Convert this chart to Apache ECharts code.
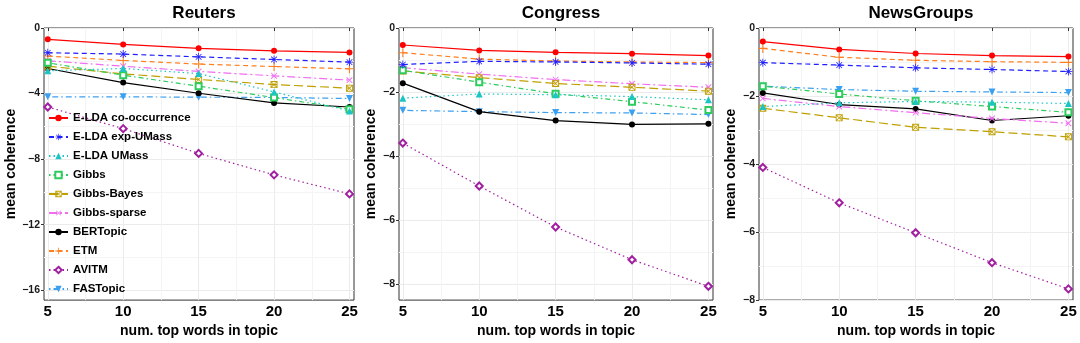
<!DOCTYPE html>
<html>
<head>
<meta charset="utf-8">
<script src="https://cdn.jsdelivr.net/npm/echarts@6/dist/echarts.min.js"></script>
<style>
  html, body { margin: 0; padding: 0; background: #fff; }
  #main { width: 1080px; height: 343px; }
</style>
</head>
<body>
<div id="main"></div>
<script>
// 横轴：主题的 top words 数量
const topWords = [5, 10, 15, 20, 25]
const methods = [
  'E-LDA co-occurrence', 'E-LDA exp-UMass', 'E-LDA UMass', 'Gibbs', 'Gibbs-Bayes',
  'Gibbs-sparse', 'BERTopic', 'ETM', 'AVITM', 'FASTopic',
]
const panelTitles = ['Reuters', 'Congress', 'NewsGroups']

// 每个数据集一组，行的顺序和 methods 一致
const reuters = [
  [-0.69, -1.0, -1.24, -1.39, -1.49],
  [-1.51, -1.59, -1.76, -1.92, -2.08],
  [-2.61, -2.47, -2.78, -3.9, -5.06],
  [-2.12, -2.88, -3.55, -4.24, -4.96],
  [-2.33, -2.8, -3.14, -3.45, -3.67],
  [-2.0, -2.33, -2.65, -2.92, -3.18],
  [-2.47, -3.33, -3.98, -4.57, -4.82],
  [-1.71, -1.98, -2.2, -2.35, -2.49],
  [-4.82, -6.14, -7.65, -8.96, -10.12],
  [-4.2, -4.2, -4.22, -4.24, -4.3],
]
const congress = [
  [-0.53, -0.7, -0.76, -0.8, -0.86],
  [-1.14, -1.04, -1.06, -1.09, -1.13],
  [-2.19, -2.06, -2.08, -2.14, -2.24],
  [-1.32, -1.69, -2.05, -2.3, -2.56],
  [-1.34, -1.55, -1.73, -1.85, -1.97],
  [-1.24, -1.44, -1.61, -1.74, -1.85],
  [-1.72, -2.61, -2.89, -3.01, -2.99],
  [-0.77, -0.97, -1.03, -1.06, -1.08],
  [-3.59, -4.93, -6.21, -7.23, -8.06],
  [-2.57, -2.61, -2.64, -2.65, -2.7],
]
const newsgroups = [
  [-0.4, -0.63, -0.75, -0.81, -0.84],
  [-1.02, -1.09, -1.17, -1.22, -1.28],
  [-2.31, -2.2, -2.16, -2.18, -2.22],
  [-1.71, -1.94, -2.14, -2.31, -2.48],
  [-2.36, -2.64, -2.92, -3.05, -3.2],
  [-2.07, -2.31, -2.49, -2.66, -2.8],
  [-1.91, -2.25, -2.38, -2.72, -2.58],
  [-0.6, -0.86, -0.95, -0.99, -1.01],
  [-4.1, -5.14, -6.02, -6.9, -7.67],
  [-1.71, -1.81, -1.86, -1.88, -1.9],
]
const panelData = [reuters, congress, newsgroups]

// 刻度
const xTicks = [5, 10, 15, 20, 25]
const xMinorTicks = [7.5, 12.5, 17.5, 22.5]
const yTicks = [[0, -4, -8, -12, -16], [0, -2, -4, -6, -8], [0, -2, -4, -6, -8]]
const yMinorTicks = [[-2, -6, -10, -14], [-1, -3, -5, -7], [-1, -3, -5, -7]]
const yMin = [-16.6, -8.49, -8]

// ---- 样式（和数据分开）----
const ASTERISK = 'path://M0,4.5 H10 V5.5 H0 Z M4.5,0 H5.5 V10 H4.5 Z M1.1,1.8 L1.8,1.1 L8.9,8.2 L8.2,8.9 Z M8.2,1.1 L8.9,1.8 L1.8,8.9 L1.1,8.2 Z'
const PLUS = 'path://M4.4,0 H5.6 V4.4 H10 V5.6 H5.6 V10 H4.4 V5.6 H0 V4.4 H4.4 Z'
const BOXX = 'path://M0,0 H10 V10 H0 Z M1.3,1.3 V8.7 H8.7 V1.3 Z M0.6,1.4 L1.4,0.6 L9.4,8.6 L8.6,9.4 Z M8.6,0.6 L9.4,1.4 L1.4,9.4 L0.6,8.6 Z'
const styles = [
  { color: '#ff0000', dash: 'solid', symbol: 'circle', size: 6 },
  { color: '#1f1fff', dash: [5, 3.5], symbol: ASTERISK, size: 8 },
  { color: '#1cc4c4', dash: [1.5, 3], symbol: 'triangle', size: 7 },
  { color: '#2ecc5e', dash: [1.5, 3, 5, 3], symbol: 'emptyRect', size: 6 },
  { color: '#c0a000', dash: [9, 4], symbol: BOXX, size: 7 },
  { color: '#f06ef0', dash: [8, 3, 2, 3], symbol: PLUS, size: 8, rotate: 45 },
  { color: '#000000', dash: 'solid', symbol: 'circle', size: 6 },
  { color: '#ff7f1e', dash: [5, 3.5], symbol: PLUS, size: 9 },
  { color: '#a020a0', dash: [1.5, 3], symbol: 'emptyDiamond', size: 7 },
  { color: '#3ca0f0', dash: [1.5, 3, 6, 3], symbol: 'triangle', size: 7, rotate: 180 },
]
const FONT = 'Liberation Sans'
const gridLefts = [44, 399, 759]
const gridWidths = [310, 314, 314]

function render() {
  var myChart = echarts.init(document.getElementById('main'))
  var grid = [], xAxis = [], yAxis = [], title = [], series = []

  panelTitles.forEach((name, i) => {
    grid.push({
      left: gridLefts[i], top: 28, width: gridWidths[i], height: 274,
      show: true, borderColor: '#333', borderWidth: 1, backgroundColor: 'transparent',
    })
    title.push({
      text: name, left: gridLefts[i] + gridWidths[i] / 2, top: 0, textAlign: 'center',
      textStyle: { fontFamily: FONT, fontSize: 17, fontWeight: 'bold', color: '#000' },
    })
  })

  // 主刻度轴 0..2，次网格轴 3..5
  panelTitles.forEach((name, i) => {
    xAxis.push({
      gridIndex: i, type: 'value', min: 4.75, max: 25.3,
      axisLine: { show: false },
      axisTick: { customValues: xTicks, length: 3, lineStyle: { color: '#333' } },
      axisLabel: { customValues: xTicks, margin: 4, fontFamily: FONT, fontSize: 15, fontWeight: 'bold', color: '#000' },
      splitLine: { show: true, lineStyle: { color: '#ebebeb', width: 1 } },
      name: 'num. top words in topic', nameLocation: 'middle', nameGap: 23,
      nameTextStyle: { fontFamily: FONT, fontSize: 14, fontWeight: 'bold', color: '#000' },
    })
    yAxis.push({
      gridIndex: i, type: 'value', min: yMin[i], max: 0,
      axisLine: { show: false },
      axisTick: { customValues: yTicks[i], length: 3, lineStyle: { color: '#333' } },
      axisLabel: {
        customValues: yTicks[i], margin: 4, fontFamily: FONT, fontSize: 10.5, fontWeight: 'bold', color: '#1a1a1a',
        formatter: (v) => String(v).replace('-', '\u2212'),
      },
      splitLine: { show: true, lineStyle: { color: '#ebebeb', width: 1 } },
      name: 'mean coherence', nameLocation: 'middle', nameGap: i === 0 ? 24 : 21,
      nameTextStyle: { fontFamily: FONT, fontSize: 14, fontWeight: 'bold', color: '#000' },
    })
  })
  panelTitles.forEach((name, i) => {
    xAxis.push({
      gridIndex: i, type: 'value', min: 4.75, max: 25.3, position: 'top',
      axisLine: { show: false }, axisLabel: { show: false },
      axisTick: { show: false, customValues: xMinorTicks },
      splitLine: { show: true, lineStyle: { color: '#f4f4f4', width: 1 } },
    })
    yAxis.push({
      gridIndex: i, type: 'value', min: yMin[i], max: 0, position: 'right',
      axisLine: { show: false }, axisLabel: { show: false },
      axisTick: { show: false, customValues: yMinorTicks[i] },
      splitLine: { show: true, lineStyle: { color: '#f4f4f4', width: 1 } },
    })
  })

  panelData.forEach((rows, i) => {
    rows.forEach((vals, j) => {
      let s = styles[j]
      let empty = typeof s.symbol === 'string' && s.symbol.indexOf('empty') === 0
      series.push({
        name: methods[j], type: 'line', xAxisIndex: i, yAxisIndex: i,
        data: topWords.map((x, k) => [x, vals[k]]),
        symbol: s.symbol, symbolSize: s.size, symbolRotate: s.rotate || 0,
        showSymbol: true, silent: true,
        itemStyle: { color: s.color, borderColor: s.color, borderWidth: empty ? 1.3 : 0 },
        lineStyle: { color: s.color, width: 1.2, type: s.dash },
        z: 10 - j,
      })
    })
  })

  var option = {
    animation: false,
    backgroundColor: '#fff',
    title: title,
    grid: grid,
    xAxis: xAxis,
    yAxis: yAxis,
    legend: {
      data: methods, orient: 'vertical', left: 43, top: 106,
      itemWidth: 19, itemHeight: 8, itemGap: 5,
      textStyle: { fontFamily: FONT, fontSize: 11.5, fontWeight: 'bold', color: '#000', lineHeight: 14 },
      selectedMode: false,
    },
    series: series,
  }
  myChart.setOption(option)
}
render()
</script>
</body>
</html>
